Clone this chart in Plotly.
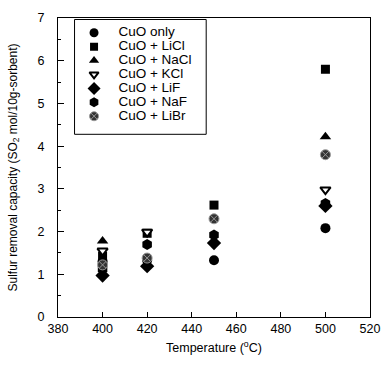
import plotly.graph_objects as go

temps = [400, 420, 450, 500]
series_names = ["CuO only", "CuO + LiCl", "CuO + NaCl", "CuO + KCl", "CuO + LiF", "CuO + NaF", "CuO + LiBr"]
cuo_only = [1.30, 1.33, 1.33, 2.08]
cuo_licl = [1.42, 1.96, 2.62, 5.80]
cuo_nacl = [1.78, None, None, 4.22]
cuo_kcl = [1.55, 1.99, None, 2.98]
cuo_lif = [0.97, 1.19, 1.73, 2.60]
cuo_naf = [1.12, 1.70, 1.92, 2.66]
cuo_libr = [1.22, 1.38, 2.30, 3.80]

values = [cuo_only, cuo_licl, cuo_nacl, cuo_kcl, cuo_lif, cuo_naf, cuo_libr]
symbols = ["circle", "square", "triangle-up", "triangle-down", "diamond", "hexagon", "circle-x"]
fills = ["black", "black", "black", "white", "black", "black", "#333333"]
lines = [dict(color="black", width=0), dict(color="black", width=0), dict(color="black", width=0),
         dict(color="black", width=2), dict(color="black", width=0), dict(color="black", width=0),
         dict(color="#999999", width=1)]
sizes = [10, 9, 10, 9, 11, 11, 10]
legend_sizes = [9, 8, 9, 8, 10, 10, 9]

font = "Liberation Sans, Arial, sans-serif"
fig = go.Figure()
for name, vals, sym, fc, ln, sz in zip(series_names, values, symbols, fills, lines, sizes):
    fig.add_trace(go.Scatter(x=temps, y=vals, mode="markers", name=name, showlegend=False,
                             marker=dict(symbol=sym, color=fc, size=sz, line=ln)))

# hand-built legend on an overlay axis pair (rows indexed 0..6)
rows = list(range(len(series_names)))
for i, (name, sym, fc, ln, sz) in enumerate(zip(series_names, symbols, fills, lines, legend_sizes)):
    fig.add_trace(go.Scatter(x=[0], y=[rows[i]], mode="markers", xaxis="x2", yaxis="y2",
                             showlegend=False, hoverinfo="skip",
                             marker=dict(symbol=sym, color=fc, size=sz, line=ln)))
fig.add_trace(go.Scatter(x=[25] * len(rows), y=rows, mode="text", text=series_names,
                         textposition="middle right", xaxis="x2", yaxis="y2",
                         showlegend=False, hoverinfo="skip",
                         textfont=dict(size=13.5, family=font, color="black")))

fig.update_layout(
    width=391, height=366,
    margin=dict(l=58, r=13, t=11, b=49),
    paper_bgcolor="white", plot_bgcolor="white",
    font=dict(family=font, size=12, color="black"),
    showlegend=False,
    xaxis=dict(range=[380, 520], tickvals=[380, 400, 420, 440, 460, 480, 500, 520],
               ticks="inside", ticklen=5, tickcolor="black", showline=True, linecolor="black",
               linewidth=1, mirror=True, showgrid=False, zeroline=False,
               tickfont=dict(size=12.5, family=font),
               title=dict(text="Temperature (<sup>o</sup>C)", font=dict(size=12.5), standoff=8)),
    yaxis=dict(range=[0, 7], tickvals=[0, 1, 2, 3, 4, 5, 6, 7],
               ticks="inside", ticklen=6, tickcolor="black", showline=True, linecolor="black",
               linewidth=1, mirror=True, showgrid=False, zeroline=False,
               minor=dict(dtick=0.5, ticks="inside", ticklen=3, tickcolor="black"),
               tickfont=dict(size=12.5, family=font), ticklabelstandoff=10,
               title=dict(text="Sulfur removal capacity (SO<sub>2</sub> mol/10g-sorbent)",
                          font=dict(size=12), standoff=17)),
    xaxis2=dict(domain=[0.053, 0.475], range=[-20, 115], visible=False, fixedrange=True),
    yaxis2=dict(domain=[0.611, 0.995], range=[7.3, -0.95], visible=False, fixedrange=True),
    shapes=[dict(type="rect", xref="x2 domain", yref="y2 domain", x0=0, x1=1, y0=0, y1=1,
                 line=dict(color="black", width=1), fillcolor="rgba(0,0,0,0)", layer="above")],
)

fig.write_html("out.html", config={"displayModeBar": False},
               post_script="document.body.style.margin='0';document.body.style.overflow='hidden';")
